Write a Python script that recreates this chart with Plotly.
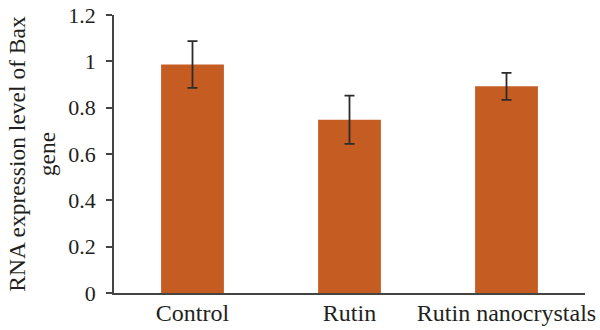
import plotly.graph_objects as go

categories = ["Control", "Rutin", "Rutin nanocrystals"]
values = [0.986, 0.748, 0.892]
errors = [0.101, 0.104, 0.058]
y_ticks = [0, 0.2, 0.4, 0.6, 0.8, 1.0, 1.2]
y_tick_labels = ["0", "0.2", "0.4", "0.6", "0.8", "1", "1.2"]

font_family = "Liberation Serif, DejaVu Serif, serif"
text_color = "#231F20"

fig = go.Figure(
    go.Bar(
        x=categories,
        y=values,
        marker=dict(color="#C55C22", line=dict(width=0)),
        error_y=dict(type="data", array=errors, visible=True,
                     color="#2b2b2b", thickness=1.8, width=5),
    )
)

fig.update_layout(
    width=600, height=330,
    margin=dict(l=114, r=15, t=15, b=37),
    paper_bgcolor="white", plot_bgcolor="white",
    bargap=0.6,
    showlegend=False,
    font=dict(family=font_family, size=22, color=text_color),
)

fig.update_xaxes(
    showline=True, linecolor="#444", linewidth=1.5,
    ticks="", showgrid=False,
    ticklabelstandoff=-3,
    tickfont=dict(size=24, color=text_color),
    automargin=False,
)
fig.update_yaxes(
    range=[0, 1.2], tickvals=y_ticks, ticktext=y_tick_labels,
    showline=True, linecolor="#444", linewidth=1.5,
    ticks="outside", ticklen=6, tickcolor="#444", tickwidth=1.5,
    showgrid=False, zeroline=False,
    ticklabelstandoff=6,
    tickfont=dict(size=22, color=text_color),
    title=dict(text="RNA expression level of Bax<br>gene", font=dict(size=23.5, color=text_color), standoff=6),
    automargin=False,
)

fig.write_html("out.html")
